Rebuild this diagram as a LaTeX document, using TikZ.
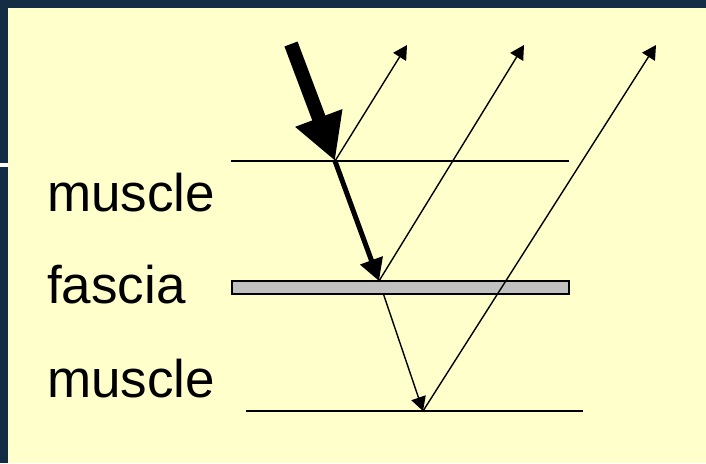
\documentclass[tikz,border=0pt]{standalone}
\usepackage{fontspec}
\setmainfont{Liberation Sans}
\usetikzlibrary{arrows.meta}
\definecolor{navy}{RGB}{19,45,69}
\definecolor{panel}{RGB}{255,255,204}
\definecolor{fasciagray}{RGB}{192,192,192}
\begin{document}
\begin{tikzpicture}[x=1pt,y=-1pt,
  layerline/.style={line width=2pt},
  thinarrow/.style={line width=1.4pt,-{Triangle[length=14pt,width=15pt]}},
  label/.style={anchor=base west,inner sep=0pt,font=\fontsize{53}{60}\selectfont}]
\useasboundingbox (0,0) rectangle (706,463);
\fill[navy] (0,0) rectangle (706,463);
\fill[panel] (8,8) rectangle (706,463);
\fill[white] (0,163) rectangle (8,167);
% points
\coordinate (src) at (291,44);
\coordinate (P1) at (335,161);
\coordinate (F) at (379,281);
\coordinate (B) at (423,411);
\coordinate (T1) at (407,45);
\coordinate (T2) at (524,45);
\coordinate (T3) at (656,45);
\coordinate (L1a) at (231,161);
\coordinate (L1b) at (569,161);
\coordinate (L3a) at (246,411);
\coordinate (L3b) at (583,411);
% labels
\node[label] (m1) at (47,211) {muscle};
\node[label] (fa) at (47,303) {fascia};
\node[label] (m2) at (47,397) {muscle};
% layers
\draw[layerline] (L1a) -- (L1b);
\draw[line width=2.5pt] (L3a) -- (L3b);
\draw[thinarrow] (F) -- (B);
\draw[line width=1.6pt,fill=fasciagray] (232,281) rectangle (569,294);
% rays
\draw[line width=14pt,-{Triangle[length=46pt,width=47pt]}] (src) -- (P1);
\draw[line width=5pt,-{Triangle[length=22pt,width=23pt]}] (P1) -- (F);
\draw[thinarrow] (P1) -- (T1);
\draw[thinarrow] (F) -- (T2);
\draw[thinarrow] (B) -- (T3);
\end{tikzpicture}
\end{document}
